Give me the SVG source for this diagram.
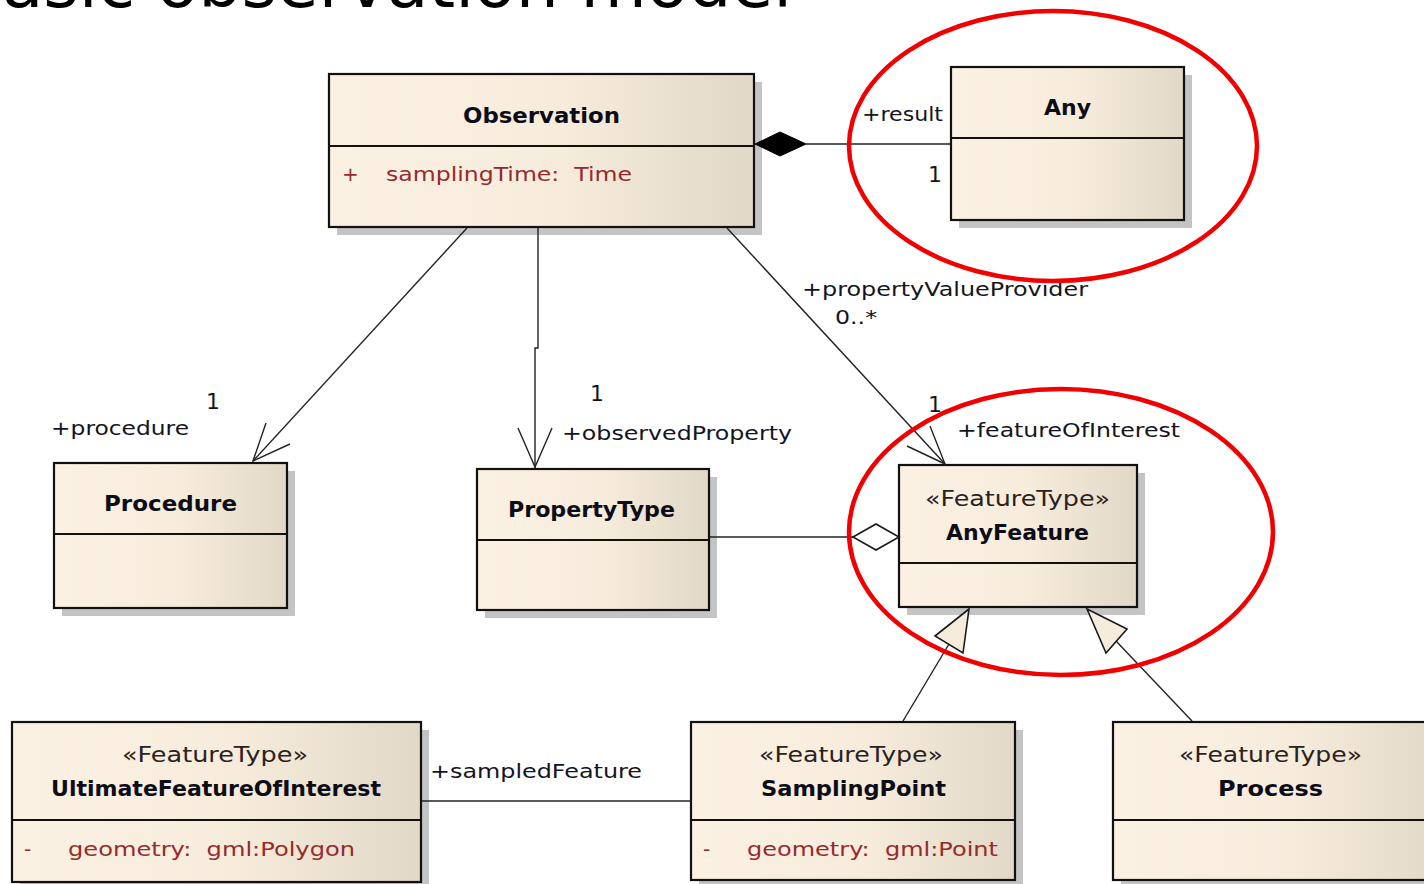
<svg xmlns="http://www.w3.org/2000/svg" width="1424" height="884" viewBox="0 0 1424 884">
  <defs>
    <linearGradient id="classFill" x1="0" y1="0" x2="1" y2="0">
      <stop offset="0" stop-color="#fbf1e3"/>
      <stop offset="0.55" stop-color="#f7ecdc"/>
      <stop offset="1" stop-color="#e1d8c7"/>
    </linearGradient>
    <style>
      .shadow { fill: #c4c4c4; }
      .box { fill: url(#classFill); stroke: #111; stroke-width: 2.2; }
      .div { stroke: #111; stroke-width: 2.2; }
      .name { font-family: "DejaVu Sans", "Liberation Sans", sans-serif; font-weight: bold; font-size: 22px; fill: #0d0d18; }
      .stereo { font-family: "DejaVu Sans", "Liberation Sans", sans-serif; font-size: 21px; fill: #2a2222; }
      .attr { font-family: "DejaVu Sans", "Liberation Sans", sans-serif; font-size: 20px; fill: #962a2c; white-space: pre; }
      .lbl { font-family: "DejaVu Sans", "Liberation Sans", sans-serif; font-size: 20px; fill: #14141e; }
      .mult { font-family: "DejaVu Sans", "Liberation Sans", sans-serif; font-size: 22px; fill: #14141e; }
      .line { fill: none; stroke: #222; stroke-width: 1.4; }
      .open { fill: none; stroke: #222; stroke-width: 1.4; }
      .hollow { fill: #ffffff; stroke: #1a1a1a; stroke-width: 1.6; }
      .tri { fill: #f6ecdc; stroke: #1a1a1a; stroke-width: 1.6; }
      .solid { fill: #000; stroke: #000; stroke-width: 1; }
      .hl { fill: none; stroke: #f00000; stroke-width: 4.5; }
      .title { font-family: "DejaVu Sans", "Liberation Sans", sans-serif; font-size: 68px; fill: #000; }
    </style>
  </defs>

  <rect width="1424" height="884" fill="#ffffff"/>

  <!-- slide title, partly above the visible area -->
  <text class="title" x="-45" y="7">Basic observation model</text>

  <g id="Observation">
    <rect class="shadow" x="337" y="82" width="425" height="153"/>
    <rect class="box" x="329" y="74" width="425" height="153"/>
    <line class="div" x1="329" y1="146" x2="754" y2="146"/>
    <text class="name" x="463" y="123" textLength="157" lengthAdjust="spacingAndGlyphs">Observation</text>
    <text class="attr" x="342" y="181">+</text>
    <text class="attr" x="386" y="181" xml:space="preserve" textLength="246" lengthAdjust="spacingAndGlyphs">samplingTime:  Time</text>
  </g>

  <g id="Any">
    <rect class="shadow" x="959" y="75" width="233" height="153"/>
    <rect class="box" x="951" y="67" width="233" height="153"/>
    <line class="div" x1="951" y1="138" x2="1184" y2="138"/>
    <text class="name" x="1044" y="115" textLength="47" lengthAdjust="spacingAndGlyphs">Any</text>
  </g>

  <g id="Procedure">
    <rect class="shadow" x="62" y="471" width="233" height="145"/>
    <rect class="box" x="54" y="463" width="233" height="145"/>
    <line class="div" x1="54" y1="534" x2="287" y2="534"/>
    <text class="name" x="104" y="511" textLength="133" lengthAdjust="spacingAndGlyphs">Procedure</text>
  </g>

  <g id="PropertyType">
    <rect class="shadow" x="485" y="477" width="232" height="141"/>
    <rect class="box" x="477" y="469" width="232" height="141"/>
    <line class="div" x1="477" y1="540" x2="709" y2="540"/>
    <text class="name" x="508" y="517" textLength="167" lengthAdjust="spacingAndGlyphs">PropertyType</text>
  </g>

  <g id="AnyFeature">
    <rect class="shadow" x="907" y="473" width="238" height="142"/>
    <rect class="box" x="899" y="465" width="238" height="142"/>
    <line class="div" x1="899" y1="563" x2="1137" y2="563"/>
    <text class="stereo" x="925" y="506" textLength="185" lengthAdjust="spacingAndGlyphs">«FeatureType»</text>
    <text class="name" x="946" y="540" textLength="143" lengthAdjust="spacingAndGlyphs">AnyFeature</text>
  </g>

  <g id="UltimateFeatureOfInterest">
    <rect class="shadow" x="20" y="730" width="409" height="160"/>
    <rect class="box" x="12" y="722" width="409" height="160"/>
    <line class="div" x1="12" y1="820" x2="421" y2="820"/>
    <text class="stereo" x="122" y="762" textLength="186" lengthAdjust="spacingAndGlyphs">«FeatureType»</text>
    <text class="name" x="51" y="796" textLength="330" lengthAdjust="spacingAndGlyphs">UltimateFeatureOfInterest</text>
    <text class="attr" x="24" y="856">-</text>
    <text class="attr" x="68" y="856" xml:space="preserve" textLength="287" lengthAdjust="spacingAndGlyphs">geometry:  gml:Polygon</text>
  </g>

  <g id="SamplingPoint">
    <rect class="shadow" x="699" y="730" width="324" height="158"/>
    <rect class="box" x="691" y="722" width="324" height="158"/>
    <line class="div" x1="691" y1="820" x2="1015" y2="820"/>
    <text class="stereo" x="759" y="762" textLength="184" lengthAdjust="spacingAndGlyphs">«FeatureType»</text>
    <text class="name" x="761" y="796" textLength="185" lengthAdjust="spacingAndGlyphs">SamplingPoint</text>
    <text class="attr" x="703" y="856">-</text>
    <text class="attr" x="747" y="856" xml:space="preserve" textLength="251" lengthAdjust="spacingAndGlyphs">geometry:  gml:Point</text>
  </g>

  <g id="Process">
    <rect class="shadow" x="1121" y="730" width="330" height="158"/>
    <rect class="box" x="1113" y="722" width="330" height="158"/>
    <line class="div" x1="1113" y1="820" x2="1443" y2="820"/>
    <text class="stereo" x="1179" y="762" textLength="183" lengthAdjust="spacingAndGlyphs">«FeatureType»</text>
    <text class="name" x="1218" y="796" textLength="105" lengthAdjust="spacingAndGlyphs">Process</text>
  </g>

  <!-- connectors, drawn over the box shadows -->
  <g id="connectors">
    <!-- Observation -> Any (composition) -->
    <line class="line" x1="806" y1="144" x2="951" y2="144"/>
    <polygon class="solid" points="755,144 780,132 806,144 780,156"/>

    <!-- Observation -> Procedure -->
    <line class="line" x1="467" y1="228" x2="253" y2="461"/>
    <polyline class="open" points="266,423 253,461 290,444"/>

    <!-- Observation -> PropertyType -->
    <polyline class="line" points="538,228 538,348 535,348 535,468"/>
    <polyline class="open" points="518,428 535,467 552,428"/>

    <!-- Observation -> AnyFeature -->
    <line class="line" x1="727" y1="228" x2="945" y2="464"/>
    <polyline class="open" points="930,426 945,464 907,446"/>

    <!-- PropertyType -> AnyFeature (aggregation) -->
    <line class="line" x1="710" y1="537" x2="853" y2="537"/>
    <polygon class="hollow" points="853,537 876,524 899,537 876,550"/>

    <!-- SamplingPoint -> AnyFeature (generalization) -->
    <line class="line" x1="903" y1="721" x2="949" y2="644"/>
    <polygon class="tri" points="969,609 935,636 963,653"/>

    <!-- Process -> AnyFeature (generalization) -->
    <line class="line" x1="1192" y1="721" x2="1116" y2="641"/>
    <polygon class="tri" points="1087,609 1127,629 1106,653"/>

    <!-- UltimateFeatureOfInterest - SamplingPoint -->
    <line class="line" x1="422" y1="801" x2="691" y2="801"/>

    <!-- role and multiplicity labels -->
    <text class="lbl" x="862" y="121" textLength="81" lengthAdjust="spacingAndGlyphs">+result</text>
    <text class="mult" x="928" y="182">1</text>
    <text class="lbl" x="802" y="296" textLength="286" lengthAdjust="spacingAndGlyphs">+propertyValueProvider</text>
    <text class="lbl" x="835" y="324" textLength="42" lengthAdjust="spacingAndGlyphs">0..*</text>
    <text class="mult" x="206" y="409">1</text>
    <text class="lbl" x="51" y="435" textLength="138" lengthAdjust="spacingAndGlyphs">+procedure</text>
    <text class="mult" x="590" y="401">1</text>
    <text class="lbl" x="562" y="440" textLength="230" lengthAdjust="spacingAndGlyphs">+observedProperty</text>
    <text class="mult" x="928" y="412">1</text>
    <text class="lbl" x="957" y="437" textLength="223" lengthAdjust="spacingAndGlyphs">+featureOfInterest</text>
    <text class="lbl" x="430" y="778" textLength="212" lengthAdjust="spacingAndGlyphs">+sampledFeature</text>
  </g>

  <!-- red highlight rings -->
  <g id="highlights">
    <ellipse class="hl" cx="1053" cy="146" rx="204" ry="135"/>
    <ellipse class="hl" cx="1061" cy="532" rx="212" ry="143"/>
  </g>
</svg>
